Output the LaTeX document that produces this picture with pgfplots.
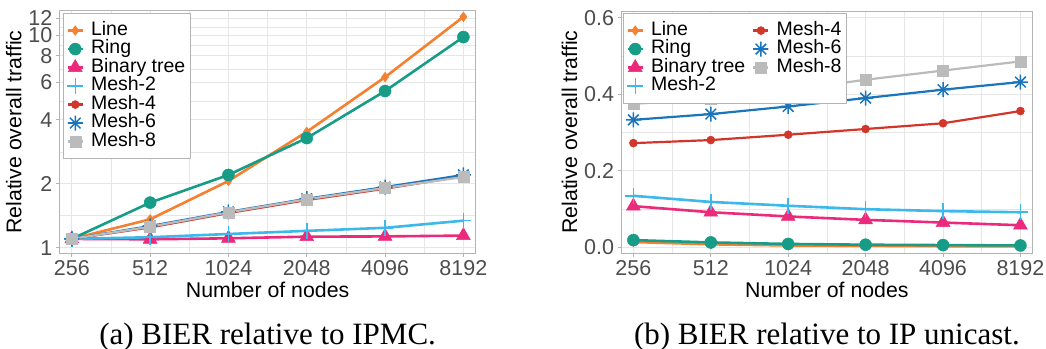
\documentclass[border=0pt]{standalone}
\usepackage{fontspec}
\setmainfont{Liberation Sans}
\newfontfamily\capfont{Liberation Serif}
\usepackage{pgfplots}
\pgfplotsset{compat=1.18}

\definecolor{cLine}{HTML}{F58030}
\definecolor{cRing}{HTML}{179C88}
\definecolor{cBin}{HTML}{EC2A7B}
\definecolor{cM2}{HTML}{3CB8EA}
\definecolor{cM4}{HTML}{D2352A}
\definecolor{cM6}{HTML}{1A75BB}
\definecolor{cM8}{HTML}{BBBBBB}
\definecolor{gridc}{HTML}{E6E6E6}
\definecolor{borderc}{HTML}{B3B3B3}
\definecolor{tickc}{HTML}{B3B3B3}
\definecolor{labc}{HTML}{4D4D4D}

\pgfdeclareplotmark{ast8}{%
 \pgfpathmoveto{\pgfpoint{0pt}{\pgfplotmarksize}}\pgfpathlineto{\pgfpoint{0pt}{-\pgfplotmarksize}}%
 \pgfpathmoveto{\pgfpoint{\pgfplotmarksize}{0pt}}\pgfpathlineto{\pgfpoint{-\pgfplotmarksize}{0pt}}%
 \pgfpathmoveto{\pgfpoint{0.7071\pgfplotmarksize}{0.7071\pgfplotmarksize}}\pgfpathlineto{\pgfpoint{-0.7071\pgfplotmarksize}{-0.7071\pgfplotmarksize}}%
 \pgfpathmoveto{\pgfpoint{0.7071\pgfplotmarksize}{-0.7071\pgfplotmarksize}}\pgfpathlineto{\pgfpoint{-0.7071\pgfplotmarksize}{0.7071\pgfplotmarksize}}%
 \pgfusepathqstroke}

\pgfplotsset{
 myaxis/.style={
  scale only axis, height=242.3bp,
  xmin=7.84, xmax=13.16,
  xtick={8,9,10,11,12,13}, xticklabels={256,512,1024,2048,4096,8192},
  minor xtick={8.5,9.5,10.5,11.5,12.5},
  grid=both,
  major grid style={line width=0.8bp, draw=gridc},
  minor grid style={line width=0.5bp, draw=gridc},
  axis line style={draw=borderc, line width=1bp},
  tick pos=left, tick align=outside,
  major tick style={draw=tickc, line width=0.8bp},
  major tick length=3.5bp, minor tick length=0pt,
  ticklabel style={font=\fontsize{21.5bp}{24bp}\selectfont, text=labc},
  yticklabel style={inner ysep=0pt},
  /pgf/number format/assume math mode=true,
  label style={font=\fontsize{21.3bp}{25bp}\selectfont},
  xlabel={Number of nodes},
  ylabel={Relative overall traffic},
  legend cell align=left,
  legend style={draw=borderc, line width=0.8bp, fill=white,
    font=\fontsize{19.5bp}{22bp}\selectfont,
    inner xsep=3bp, inner ysep=8bp, row sep=0pt, column sep=5bp,
    nodes={inner ysep=0pt, inner xsep=2bp, text height=14bp, text depth=4.5bp}},
  legend image code/.code={\draw[mark repeat=2,mark phase=2,##1] plot coordinates {(0bp,0bp) (7.5bp,0bp) (15bp,0bp)};},
 },
 sLine/.style={color=cLine, line width=2.6bp, mark=diamond*, mark size=4.8bp, mark options={line width=0.5bp}},
 sRing/.style={color=cRing, line width=2.6bp, mark=*, mark size=6bp, mark options={line width=0.5bp}},
 sBin/.style={color=cBin, line width=2.6bp, mark=triangle*, mark size=8bp, mark options={line width=0.5bp}},
 sM2/.style={color=cM2, line width=2.6bp, mark=+, mark size=8bp, mark options={line width=1.5bp}},
 sM4/.style={color=cM4, line width=2.2bp, mark=*, mark size=4bp, mark options={line width=0.5bp}},
 sM6/.style={color=cM6, line width=2.2bp, mark=ast8, mark size=7.5bp, mark options={line width=1.5bp}},
 sM8/.style={color=cM8, line width=2.2bp, mark=square*, mark size=5.5bp, mark options={line width=0.5bp}},
}

\begin{document}
\begin{tikzpicture}
\useasboundingbox (0,0) rectangle (1046bp,349bp);

\begin{axis}[myaxis, at={(59.3bp,95.7bp)}, anchor=south west, width=416.6bp,
  ymode=log, ymin=0.941, ymax=13.0,
  ytick={1,2,4,6,8,10,12}, yticklabels={1,2,4,6,8,10,12},
  minor ytick={1.414,2.828,4.899,6.928,8.944,10.954},
  legend style={at={(0.009,0.992)}, anchor=north west}]
\addplot[sLine] coordinates {(8,1.10) (9,1.36) (10,2.06) (11,3.51) (12,6.35) (13,12.2)};
\addlegendentry{Line}
\addplot[sRing] coordinates {(8,1.10) (9,1.63) (10,2.20) (11,3.28) (12,5.46) (13,9.8)};
\addlegendentry{Ring}
\addplot[sBin] coordinates {(8,1.10) (9,1.095) (10,1.107) (11,1.127) (12,1.13) (13,1.14)};
\addlegendentry{Binary tree}
\addplot[sM2] coordinates {(8,1.10) (9,1.12) (10,1.16) (11,1.20) (12,1.24) (13,1.34)};
\addlegendentry{Mesh-2}
\addplot[sM4] coordinates {(8,1.10) (9,1.245) (10,1.455) (11,1.675) (12,1.895) (13,2.17)};
\addlegendentry{Mesh-4}
\addplot[sM6] coordinates {(8,1.10) (9,1.265) (10,1.475) (11,1.70) (12,1.93) (13,2.20)};
\addlegendentry{Mesh-6}
\addplot[sM8] coordinates {(8,1.10) (9,1.255) (10,1.467) (11,1.69) (12,1.91) (13,2.15)};
\addlegendentry{Mesh-8}
\end{axis}

\begin{axis}[myaxis, at={(621bp,95.7bp)}, anchor=south west, width=411.8bp,
  ymin=-0.0165, ymax=0.618,
  ytick={0,0.2,0.4,0.6}, yticklabels={0.0,0.2,0.4,0.6},
  minor ytick={0.1,0.3,0.5},
  transpose legend, legend columns=4,
  legend style={at={(0.005,0.992)}, anchor=north west}]
\addplot[sLine] coordinates {(8,0.013) (9,0.007) (10,0.004) (11,0.003) (12,0.002) (13,0.002)};
\addlegendentry{Line}
\addplot[sRing] coordinates {(8,0.018) (9,0.012) (10,0.008) (11,0.006) (12,0.005) (13,0.004)};
\addlegendentry{Ring}
\addplot[sBin] coordinates {(8,0.107) (9,0.091) (10,0.080) (11,0.071) (12,0.064) (13,0.057)};
\addlegendentry{Binary tree}
\addplot[sM2] coordinates {(8,0.134) (9,0.118) (10,0.108) (11,0.099) (12,0.094) (13,0.091)};
\addlegendentry{Mesh-2}
\addplot[sM4] coordinates {(8,0.272) (9,0.280) (10,0.294) (11,0.309) (12,0.324) (13,0.356)};
\addlegendentry{Mesh-4}
\addplot[sM6] coordinates {(8,0.333) (9,0.348) (10,0.368) (11,0.390) (12,0.412) (13,0.432)};
\addlegendentry{Mesh-6}
\addplot[sM8] coordinates {(8,0.375) (9,0.387) (10,0.410) (11,0.438) (12,0.462) (13,0.486)};
\addlegendentry{Mesh-8}
\end{axis}

\node[font=\capfont\fontsize{31bp}{36bp}\selectfont, anchor=base] at (267.6bp,5bp) {(a) BIER relative to IPMC.};
\node[font=\capfont\fontsize{31bp}{36bp}\selectfont, anchor=base] at (826.9bp,5bp) {(b) BIER relative to IP unicast.};
\end{tikzpicture}
\end{document}
